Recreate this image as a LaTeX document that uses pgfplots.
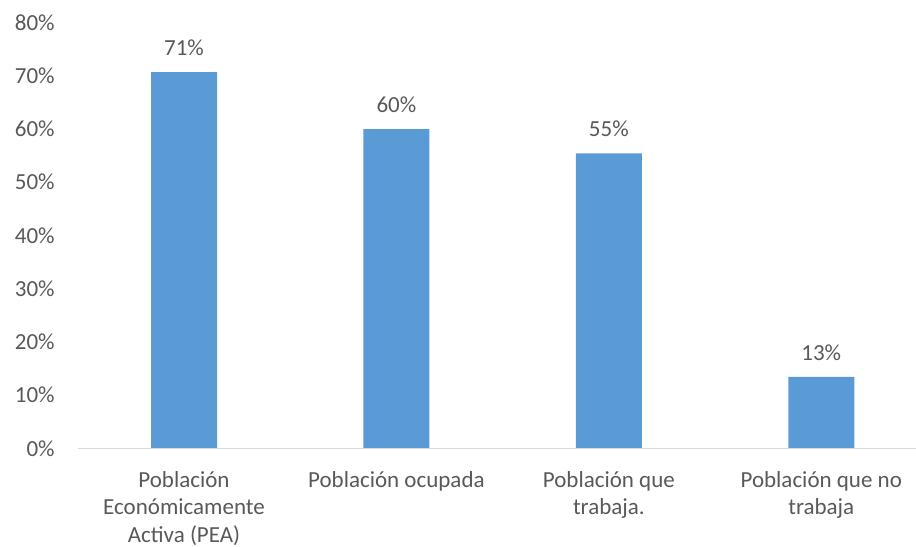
\documentclass[border=0pt]{standalone}
\usepackage{fontspec}
\setmainfont{Carlito}
\usepackage{pgfplots}
\pgfplotsset{compat=1.18}
\definecolor{barblue}{HTML}{5B9BD5}
\definecolor{txt}{HTML}{595959}
\definecolor{axisgray}{HTML}{D9D9D9}
\begin{document}
\begin{tikzpicture}[x=1bp,y=1bp]
\path[use as bounding box] (0,0) rectangle (916,547);
\begin{axis}[
  at={(77.8bp,98.7bp)}, anchor=south west,
  scale only axis, width=838.2bp, height=425.7bp,
  xmin=-0.5, xmax=3.446, ymin=0, ymax=80,
  ytick={0,10,...,80},
  /pgf/number format/assume math mode=true,
  yticklabel={\pgfmathprintnumber{\tick}\%},
  xtick={0,1,2,3},
  xticklabels={{Población\\Económicamente\\Activa (PEA)},{Población ocupada},{Población que\\trabaja.},{Población que no\\trabaja}},
  axis line style={draw=none},
  major tick length=0pt,
  tick style={draw=none},
  font=\fontsize{23bp}{27.5bp}\selectfont,
  ticklabel style={txt},
  xticklabel style={align=center, anchor=north, inner sep=0pt, yshift=-23bp},
  yticklabel style={anchor=east, inner sep=0pt, xshift=-23bp},
  ybar, bar width=66bp,
  nodes near coords={\pgfmathprintnumber[fixed,precision=0,assume math mode=true]{\pgfplotspointmeta}\%},
  every node near coord/.append style={txt, font=\fontsize{23bp}{26bp}\selectfont, yshift=13bp},
  clip=false,
]
\addplot[fill=barblue, draw=none] coordinates {(0,70.7) (1,60.0) (2,55.4) (3,13.4)};
\draw[axisgray, line width=1.3bp] (axis cs:-0.5,0) -- (axis cs:3.446,0);
\end{axis}
\end{tikzpicture}
\end{document}
